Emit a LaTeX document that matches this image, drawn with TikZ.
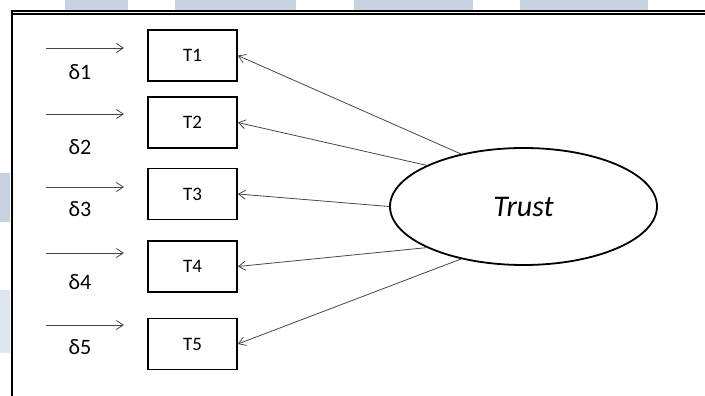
\documentclass[tikz,border=0pt]{standalone}
\usepackage{fontspec}
\setmainfont{Carlito}
\usetikzlibrary{shapes.geometric,arrows.meta}
\definecolor{wmblue}{RGB}{197,211,225}
\definecolor{wmpale}{RGB}{222,231,239}
\definecolor{linegray}{RGB}{70,70,70}
\tikzset{
  indicator/.style={draw, line width=1.6pt, minimum width=89pt, minimum height=51pt,
    inner sep=0pt, font=\fontsize{19}{21}\selectfont},
  latent/.style={draw, ellipse, line width=1.8pt, minimum width=267pt, minimum height=117pt,
    inner sep=0pt, font=\fontsize{30}{34}\selectfont\itshape},
  errlabel/.style={inner sep=0pt, font=\fontsize{22}{24}\selectfont},
  path/.style={draw=linegray, line width=0.8pt, -{Straight Barb[length=7pt,width=9pt]}},
  frame/.style={line width=2.8pt}
}
\begin{document}
\begin{tikzpicture}[x=1pt, y=-1pt]
  \useasboundingbox (0,0) rectangle (705,396);
  % pale background patches along the top and left edges
  \fill[wmblue] (65,0) rectangle (128,10);
  \fill[wmblue] (175,0) rectangle (296,10);
  \fill[wmblue] (354,0) rectangle (473,10);
  \fill[wmblue] (520,0) rectangle (648,10);
  \fill[wmblue] (0,173) rectangle (10,222);
  \fill[wmpale] (0,290) rectangle (10,353);
  % frame: double rule on top, heavy rule on the left
  \draw[line width=1.5pt] (11,10.8) -- (705,10.8);
  \draw[line width=1.5pt] (11,14) -- (705,14);
  \draw[frame] (12,10) -- (12,396);

  % observed indicators
  \node[indicator] (t1) at (192.5,55.5) {T1};
  \node[indicator] (t2) at (192.5,122.5) {T2};
  \node[indicator] (t3) at (192.5,194) {T3};
  \node[indicator] (t4) at (192.5,266.5) {T4};
  \node[indicator] (t5) at (192.5,344) {T5};

  % latent construct
  \node[latent] (trust) at (523.5,206.5) {Trust};

  % error terms
  \node[errlabel] (d1) at (80,72) {δ1};
  \node[errlabel] (d2) at (80,147) {δ2};
  \node[errlabel] (d3) at (80,209) {δ3};
  \node[errlabel] (d4) at (80,282) {δ4};
  \node[errlabel] (d5) at (80,347) {δ5};

  \coordinate (s1) at (46,48);  \coordinate (e1) at (124,48);
  \coordinate (s2) at (46,114); \coordinate (e2) at (124,114);
  \coordinate (s3) at (46,187); \coordinate (e3) at (124,187);
  \coordinate (s4) at (46,253); \coordinate (e4) at (124,253);
  \coordinate (s5) at (46,325); \coordinate (e5) at (124,325);
  \foreach \i in {1,...,5} \draw[path] (s\i) -- (e\i);

  % loadings
  \draw[path] (trust.140) -- (t1.east);
  \draw[path] (trust.157) -- (t2.east);
  \draw[path] (trust.180) -- (t3.east);
  \draw[path] (trust.203) -- (t4.east);
  \draw[path] (trust.220) -- (t5.east);
\end{tikzpicture}
\end{document}
